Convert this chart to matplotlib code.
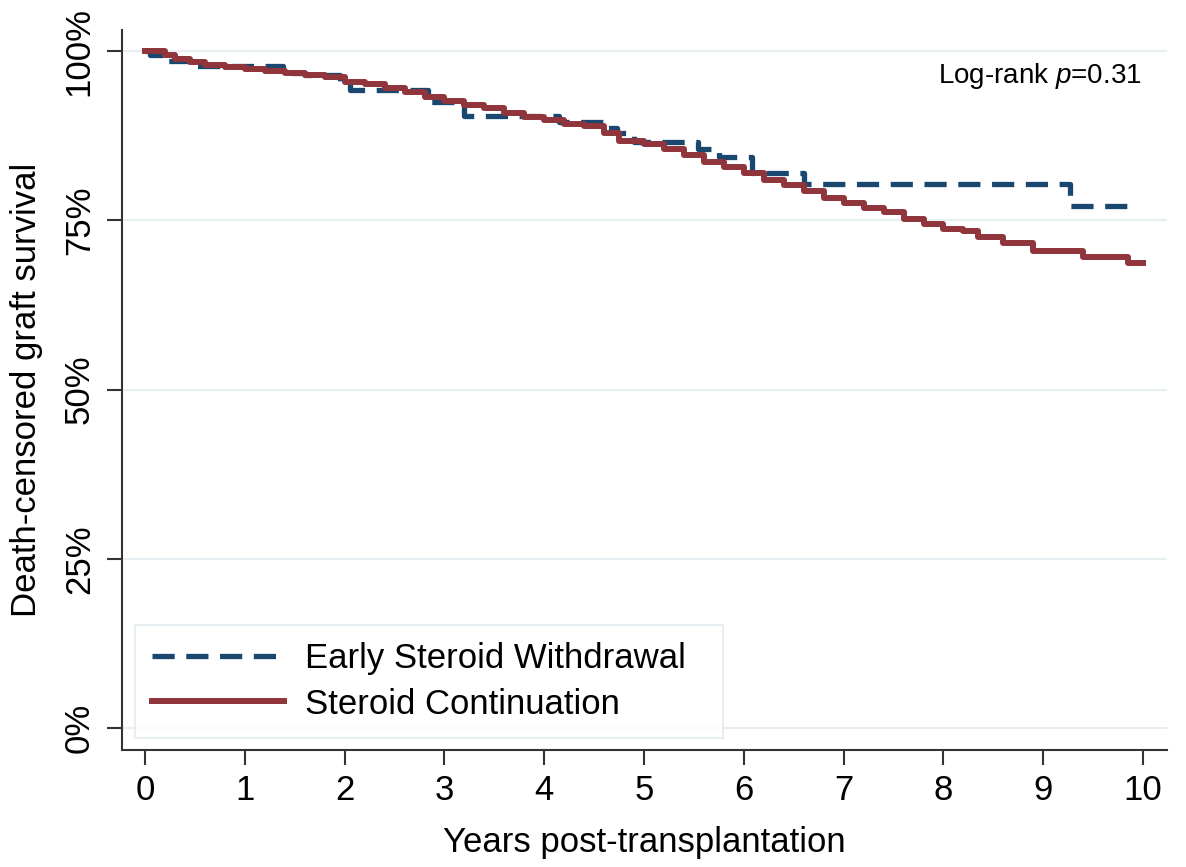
import matplotlib
matplotlib.use("Agg")
import matplotlib.pyplot as plt

plt.rcParams['font.family'] = ['Liberation Sans', 'DejaVu Sans']
plt.rcParams['mathtext.fontset'] = 'custom'
plt.rcParams['mathtext.rm'] = 'Liberation Sans'
plt.rcParams['mathtext.it'] = 'Liberation Sans:italic'

# Early Steroid Withdrawal (KM steps, % surviving)
esw_t = [0, 0.05, 0.23, 0.45, 1.38, 1.6, 1.95, 2.05, 2.83, 3.2, 4.15, 4.6, 4.73, 4.9,
         5.54, 5.75, 6.08, 6.6, 9.27, 9.95]
esw_s = [100, 99.4, 98.5, 97.9, 96.8, 96.5, 95.0, 94.3, 92.5, 90.5, 89.6, 88.7, 87.9, 86.6,
         85.6, 84.4, 82.0, 80.4, 77.2, 77.2]

# Steroid Continuation
sc_t = [0, 0.2, 0.3, 0.45, 0.6, 0.8, 1.0, 1.2, 1.4, 1.6, 1.8, 2.0, 2.2, 2.4, 2.6, 2.8,
        3.0, 3.2, 3.4, 3.6, 3.8, 4.0, 4.2, 4.4, 4.6, 4.75, 5.0, 5.2, 5.4, 5.6, 5.8, 6.0,
        6.2, 6.4, 6.6, 6.8, 7.0, 7.2, 7.4, 7.6, 7.8, 8.0, 8.2, 8.35, 8.6, 8.9, 9.4, 9.85, 10.0]
sc_s = [100, 99.4, 98.9, 98.4, 98.0, 97.7, 97.4, 97.1, 96.8, 96.5, 96.2, 95.5, 95.1, 94.6,
        94.0, 93.2, 92.6, 92.1, 91.6, 90.9, 90.3, 89.8, 89.3, 88.9, 88.0, 86.7, 86.3, 85.5,
        84.7, 83.7, 82.9, 82.0, 81.0, 80.2, 79.3, 78.3, 77.6, 76.9, 76.3, 75.2, 74.5, 73.8,
        73.4, 72.6, 71.7, 70.5, 69.6, 68.7, 68.7]

yticks = [0, 25, 50, 75, 100]
ytick_labels = ["0%", "25%", "50%", "75%", "100%"]
xticks = list(range(0, 11))

fig = plt.figure(figsize=(11.86, 8.67), dpi=100)
ax = fig.add_axes([0.103, 0.135, 0.881, 0.83])

ax.step(esw_t, esw_s, where='post', color='#1a476f', lw=3.8,
        linestyle=(0, (4.2, 2.2)), label='Early Steroid Withdrawal  ')
ax.step(sc_t, sc_s, where='post', color='#90353b', lw=4.3,
        label='Steroid Continuation')

ax.set_xlim(-0.23, 10.24)
ax.set_ylim(-3.25, 103.1)
ax.set_xticks(xticks)
ax.set_yticks(yticks)
ax.set_yticklabels(ytick_labels, rotation=90, va='center')
ax.tick_params(axis='both', labelsize=25, length=11, width=1.5, color='#333333')
ax.tick_params(axis='y', pad=8)
ax.tick_params(axis='x', pad=6)
ax.yaxis.grid(True, color='#e8eff3', lw=1.5)
ax.set_axisbelow(True)
for s in ['top', 'right']:
    ax.spines[s].set_visible(False)
for s in ['left', 'bottom']:
    ax.spines[s].set_color('#333333')
    ax.spines[s].set_linewidth(1.5)

ax.set_xlabel("Years post-transplantation", fontsize=25, labelpad=14)
ax.set_ylabel("Death-censored graft survival", fontsize=25, labelpad=14)

ax.text(9.98, 96.4, "Log-rank $\\it{p}$=0.31", fontsize=20, ha='right', va='center')

leg = ax.legend(loc='lower left', bbox_to_anchor=(0.0124, 0.0167), fontsize=25,
                frameon=True, fancybox=False, edgecolor='#e3ecef', handlelength=3.8,
                borderpad=0.5, labelspacing=0.35, handletextpad=0.6, borderaxespad=0)
leg.get_frame().set_linewidth(1.5)

fig.savefig("out.png", dpi=100)
